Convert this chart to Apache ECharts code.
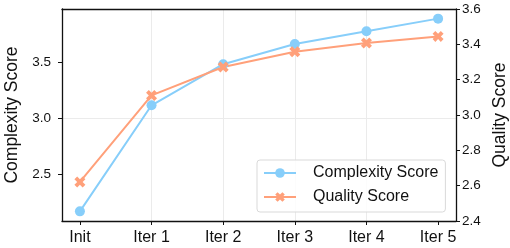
<!DOCTYPE html>
<html>
<head>
<meta charset="utf-8">
<script src="https://cdn.jsdelivr.net/npm/echarts@6/dist/echarts.min.js"></script>
<style>
  html, body { margin: 0; padding: 0; background: #fff; }
  #chart { width: 510px; height: 248px; }
</style>
</head>
<body>
<div id="chart"></div>
<script>
// data
var categories = ['Init', 'Iter 1', 'Iter 2', 'Iter 3', 'Iter 4', 'Iter 5'];
var complexity = [2.165, 3.117, 3.486, 3.668, 3.782, 3.895];
var quality = [2.621, 3.111, 3.272, 3.358, 3.407, 3.445];

var blue = '#87CEFA';
var salmon = '#FFA07A';
var ink = '#111';
var font = 'Liberation Sans, Arial, sans-serif';

// matplotlib style "X" marker
var xMarker = 'path://M141,-283L283,-141L141,0L283,141L141,283L0,141L-141,283L-283,141L-141,0L-283,-141L-141,-283L0,-141Z';

// left axis range like matplotlib's 5% margin
var cMin = Math.min.apply(null, complexity);
var cMax = Math.max.apply(null, complexity);
var pad = (cMax - cMin) * 0.05;

function pairs(arr) {
    return arr.map(function (v, i) { return [i, v]; });
}

var chart = echarts.init(document.getElementById('chart'));

var option = {
    animation: false,
    textStyle: { fontFamily: font },
    grid: { left: 62, right: 54, top: 9, bottom: 27, containLabel: false, outerBoundsMode: 'none' },
    legend: {
        orient: 'vertical',
        left: 257,
        top: 160,
        padding: [5, 7, 7, 6],
        itemWidth: 32,
        itemHeight: 12,
        itemGap: 8,
        borderColor: '#d9d9d9',
        borderWidth: 1,
        borderRadius: 3,
        backgroundColor: 'rgba(255,255,255,0.85)',
        textStyle: { fontSize: 16, color: ink, fontFamily: font, padding: [0, 0, 0, 12] },
        data: ['Complexity Score', 'Quality Score']
    },
    xAxis: [{
        type: 'value',
        min: -0.25,
        max: 5.25,
        splitNumber: 5,
        axisLine: { show: true, onZero: false, lineStyle: { color: ink, width: 1.3 } },
        axisTick: { show: true, length: 4, lineStyle: { color: ink }, customValues: [0, 1, 2, 3, 4, 5] },
        splitLine: { show: true, showMinLine: false, showMaxLine: false, lineStyle: { color: '#ebebeb', width: 1 } },
        axisLabel: {
            fontSize: 16, color: ink, margin: 9,
            customValues: [0, 1, 2, 3, 4, 5],
            formatter: function (v) {
                return Number.isInteger(v) ? categories[v] : '';
            }
        }
    }, {
        type: 'value',
        position: 'top',
        min: -0.25,
        max: 5.25,
        axisLine: { show: true, onZero: false, lineStyle: { color: ink, width: 1.3 } },
        axisTick: { show: false },
        axisLabel: { show: false },
        splitLine: { show: false }
    }],
    yAxis: [{
        type: 'value',
        min: cMin - pad,
        max: cMax + pad,
        splitNumber: 4,
        name: 'Complexity Score',
        nameLocation: 'middle',
        nameGap: 34,
        nameTextStyle: { fontSize: 17.5, color: ink },
        axisLine: { show: true, onZero: false, lineStyle: { color: ink, width: 1.3 } },
        axisTick: { show: true, length: 4, lineStyle: { color: ink }, customValues: [2.5, 3.0, 3.5] },
        splitLine: { show: true, showMinLine: false, showMaxLine: false, lineStyle: { color: '#ebebeb', width: 1 } },
        axisLabel: {
            fontSize: 13.5, color: ink, margin: 11,
            customValues: [2.5, 3.0, 3.5],
            formatter: function (v) {
                var k = Math.round(v * 2);
                return Math.abs(v * 2 - k) < 1e-6 ? v.toFixed(1) : '';
            }
        }
    }, {
        type: 'value',
        position: 'right',
        min: 2.4,
        max: 3.6,
        interval: 0.2,
        name: 'Quality Score',
        nameLocation: 'middle',
        nameGap: 35,
        nameRotate: 90,
        nameTextStyle: { fontSize: 17.5, color: ink },
        axisLine: { show: true, onZero: false, lineStyle: { color: ink, width: 1.3 } },
        axisTick: { show: true, length: 4, lineStyle: { color: ink } },
        splitLine: { show: false },
        axisLabel: {
            fontSize: 13.5, color: ink, margin: 6,
            formatter: function (v) { return v.toFixed(1); }
        }
    }],
    series: [{
        name: 'Complexity Score',
        type: 'line',
        yAxisIndex: 0,
        data: pairs(complexity),
        symbol: 'circle',
        symbolSize: 10,
        itemStyle: { color: blue },
        lineStyle: { color: blue, width: 2 }
    }, {
        name: 'Quality Score',
        type: 'line',
        yAxisIndex: 1,
        data: pairs(quality),
        symbol: xMarker,
        symbolSize: 11,
        itemStyle: { color: salmon },
        lineStyle: { color: salmon, width: 2 }
    }]
};

chart.setOption(option);
</script>
</body>
</html>
